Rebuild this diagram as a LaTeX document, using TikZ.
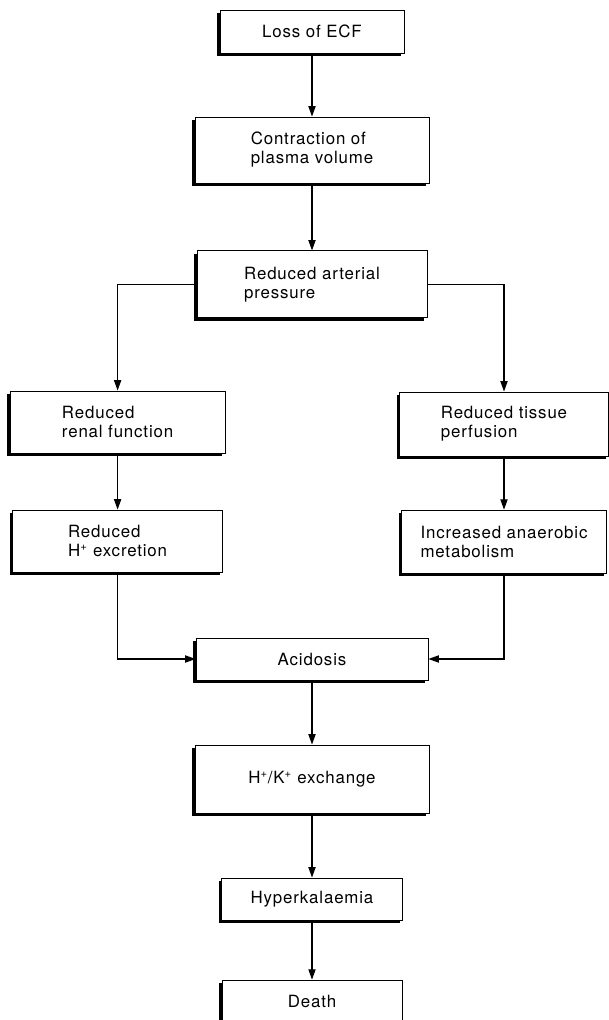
\documentclass[tikz,border=0pt]{standalone}
\usepackage{fontspec}
\setmainfont{TeX Gyre Heros}[LetterSpace=5]
\usepackage{tikz}
\usetikzlibrary{arrows.meta, positioning, shadows}

\begin{document}
\begin{tikzpicture}[
    every node/.style={font=\fontsize{12}{13.5}\selectfont},
    stage/.style={rectangle, draw, line width=0.6pt, fill=white, align=left,
                  drop shadow={shadow xshift=-2pt, shadow yshift=-2pt,
                               fill=black, opacity=1}},
    arr/.style={-{Triangle[length=2.6mm, width=1.8mm]}, line width=0.8pt}
]
    \useasboundingbox (0,0) rectangle (15.225,25.5);

    \node[stage, minimum width=4.6cm,  minimum height=1.075cm] (loss)   at (7.8, 24.71)  {Loss of ECF};
    \node[stage, minimum width=5.85cm, minimum height=1.65cm]  (contr)  at (7.8, 21.75)  {Contraction of\\plasma volume};
    \node[stage, minimum width=5.75cm, minimum height=1.675cm] (arter)  at (7.8, 18.39)  {Reduced arterial\\pressure};
    \node[stage, minimum width=5.375cm, minimum height=1.55cm] (renal)  at (2.94, 14.95) {Reduced\\renal function};
    \node[stage, minimum width=5.225cm, minimum height=1.6cm]  (tissue) at (12.6, 14.9)  {Reduced tissue\\perfusion};
    \node[stage, minimum width=5.25cm, minimum height=1.55cm]  (hexc)   at (2.94, 11.975) {Reduced\\H\textsuperscript{+} excretion};
    \node[stage, minimum width=5.125cm, minimum height=1.575cm] (anaer) at (12.6, 11.96) {Increased anaerobic\\metabolism};
    \node[stage, minimum width=5.8cm,  minimum height=1.05cm]  (acid)   at (7.8, 9.025)  {Acidosis};
    \node[stage, minimum width=5.85cm, minimum height=1.7cm]   (exch)   at (7.8, 6.025)  {H\textsuperscript{+}/K\textsuperscript{+} exchange};
    \node[stage, minimum width=4.525cm, minimum height=1.05cm] (hyper)  at (7.8, 3.025)  {Hyperkalaemia};
    \node[stage, minimum width=4.5cm,  minimum height=1.075cm] (death)  at (7.8, 0.46)   {Death};

    \draw[arr] (loss)  -- (contr);
    \draw[arr] (contr) -- (arter);
    \draw[arr] (arter.west) -| (renal.north);
    \draw[arr] (arter.east) -| (tissue.north);
    \draw[arr] (renal)  -- (hexc);
    \draw[arr] (tissue) -- (anaer);
    \draw[arr] (hexc.south)  |- (acid.west);
    \draw[arr] (anaer.south) |- (acid.east);
    \draw[arr] (acid)  -- (exch);
    \draw[arr] (exch)  -- (hyper);
    \draw[arr] (hyper) -- (death);
\end{tikzpicture}
\end{document}
